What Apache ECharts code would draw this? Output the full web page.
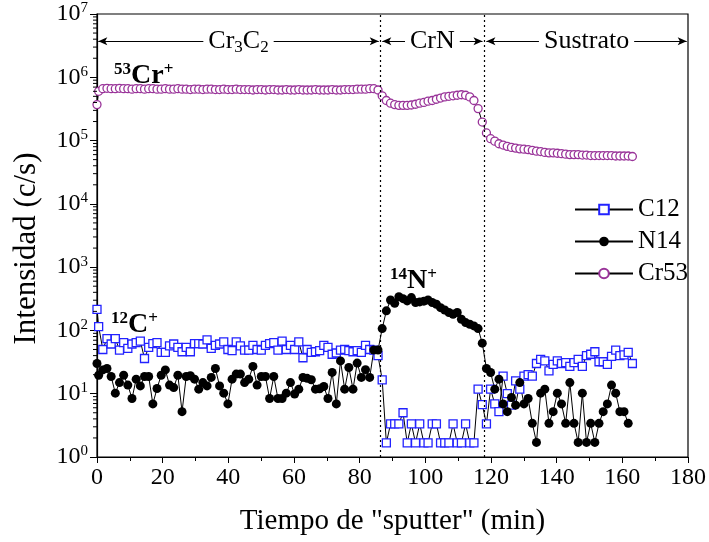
<!DOCTYPE html>
<html><head><meta charset="utf-8">
<script src="https://cdn.jsdelivr.net/npm/echarts@6/dist/echarts.min.js"></script>
<style>html,body{margin:0;padding:0;background:#fff}#c{width:709px;height:542px}</style>
</head><body><div id="c"></div>
<script>
// sampling grid (min): first sample at 0, then every DT starting at T1
const T1 = 0.5, DT = 1.27;

const c12 = [215,115,50,74,61,74,49,64,52,61,64,68,36,54,62,64,45,45,57,61,54,46,54,46,62,62,
  61,71,52,58,61,66,50,48,66,57,49,49,58,50,49,58,62,64,49,68,50,58,50,66,37,
  50,
  45,46,48,58,54,42,44,49,50,48,46,48,45,58,50,49,40,16.6,
  1.67,3.33,3.33,3.33,5,1.67,3.33,1.67,3.33,1.67,1.67,3.33,3.33,1.67,1.67,1.67,3.33,1.67,1.67,3.33,1.67,1.67,11.8,6.7,3.33,
  11.8,6.9,5.2,19,10,6.6,16,11.8,19,20,19,30,35,33,23,29,33,30,31,27,31,35,27,40,42,46,32,32,29,39,49,40,41,45,30];

const n14 = [30,19.6,23.8,25,18.7,10.2,15,19.6,13.7,8.4,17,13.3,18.7,18.7,6.9,12.1,19.6,23.8,13.7,12.5,19.6,5.2,18.7,19.2,17,11.8,15,13.3,18.1,25,13.3,10.2,6.9,17,20.4,20.4,15,17,27,13.7,18.7,18.7,8.4,18.7,8.4,8.4,10.2,
  15,9.9,11.8,18.1,17.5,16.6,11.8,12,13,8.4,21.7,6.9,33,11.8,26,11.8,30.5,18.1,24,18.1,49,49,
  107,204,302,268,342,318,293,330,276,282,290,302,276,259,229,210,192,180,192,150,133,125,118,107,63,25,
  21.6,11.8,17,6.9,5.2,8.7,6.6,15,6.9,8.4,3.4,1.7,10.2,11.8,3.4,5.2,10.2,6.9,3.4,15,3.4,1.7,10.2,1.7,3.4,1.7,3.4,5.2,6.9,13.7,10.2,5.2,5.2,3.4];

const cr53 = [3.7e5,6.0e5,
  6.6e5,6.7e5,6.6e5,6.6e5,6.7e5,6.6e5,6.6e5,6.5e5,6.6e5,6.6e5,
  6.5e5,6.6e5,6.6e5,6.5e5,6.5e5,6.6e5,6.5e5,6.5e5,6.6e5,6.5e5,
  6.5e5,6.4e5,6.5e5,6.5e5,6.4e5,6.5e5,6.5e5,6.4e5,6.4e5,6.5e5,
  6.4e5,6.4e5,6.5e5,6.4e5,6.4e5,6.4e5,6.3e5,6.4e5,6.4e5,6.3e5,
  6.4e5,6.4e5,6.3e5,6.3e5,6.4e5,6.3e5,6.3e5,6.4e5,6.3e5,6.3e5,
  6.3e5,6.4e5,6.3e5,6.3e5,6.3e5,6.4e5,6.3e5,6.3e5,6.4e5,6.4e5,
  6.4e5,6.5e5,6.5e5,6.5e5,6.6e5,6.6e5,
  6.3e5,5.1e5,4.3e5,3.9e5,3.7e5,3.6e5,3.6e5,3.6e5,3.65e5,3.75e5,3.9e5,4.0e5,4.2e5,4.3e5,4.5e5,4.7e5,4.9e5,5.0e5,5.1e5,5.2e5,5.3e5,5.2e5,4.9e5,4.3e5,3.2e5,1.96e5,
  1.32e5,1.07e5,9.8e4,8.9e4,8.5e4,8.1e4,7.8e4,7.6e4,7.4e4,7.3e4,7.2e4,7.0e4,6.8e4,6.7e4,6.5e4,6.4e4,6.4e4,6.3e4,6.2e4,6.1e4,6.0e4,6.0e4,6.0e4,5.9e4,5.9e4,5.8e4,5.8e4,5.8e4,5.8e4,5.8e4,5.8e4,5.7e4,5.7e4,5.7e4,5.7e4,5.6e4];

const regionBounds = [86.3, 118.0];           // dotted interface lines (min)
const regionLabels = ['Cr3C2', 'CrN', 'Sustrato'];
const regionSpans = [[0.4, 85.8], [86.9, 117.4], [118.6, 179.6]];
const regionArrowY = 3.7e6;
const xTickStep = 20;
const yDecades = [0,1,2,3,4,5,6,7];

const time = c12.map((_, k) => k === 0 ? 0 : T1 + (k - 1) * DT);
const pairs = arr => arr.map((v, k) => [time[k], v]);

const minorVals = [];
yDecades.slice(0, -1).forEach(e => { for (let m = 2; m <= 9; m++) minorVals.push([0, m * Math.pow(10, e)]); });

const FONT = '"Liberation Serif","Times New Roman",serif';
const chart = echarts.init(document.getElementById('c'), null, {renderer: 'canvas'});

const lineBase = {type: 'line', symbolSize: 8, lineStyle: {color: '#000', width: 1}, emphasis: {disabled: true}, z: 3};

const regionLabelRich = {
  n: {fontFamily: FONT, fontSize: 26, lineHeight: 30, color: '#000'},
  s: {fontFamily: FONT, fontSize: 17, lineHeight: 13, verticalAlign: 'bottom', color: '#000'}
};
function regionText(name) {
  if (name === 'Cr3C2') return '{n|Cr}{s|3}{n|C}{s|2}';
  return '{n|' + name + '}';
}
const annRich = {
  s: {fontFamily: FONT, fontSize: 17, fontWeight: 'bold', lineHeight: 14, verticalAlign: 'top', fill: '#000'},
  b: {fontFamily: FONT, fontSize: 28, fontWeight: 'bold', lineHeight: 30, fill: '#000'}
};

const option = {
  animation: false,
  backgroundColor: '#fff',
  grid: {left: 97, right: 18, top: 14, bottom: 85, show: true, borderColor: '#000', borderWidth: 1.2, backgroundColor: 'transparent'},
  xAxis: {
    type: 'value', min: 0, max: 180, interval: xTickStep,
    name: 'Tiempo de "sputter" (min)', nameLocation: 'middle', nameGap: 50,
    nameTextStyle: {fontFamily: FONT, fontSize: 29, color: '#000'},
    axisLine: {lineStyle: {color: '#000', width: 1.2}},
    axisTick: {inside: false, length: 6, lineStyle: {color: '#000', width: 1}},
    minorTick: {show: true, splitNumber: 2, length: 4, lineStyle: {color: '#000', width: 1}},
    axisLabel: {fontFamily: FONT, fontSize: 24, color: '#000', margin: 9},
    splitLine: {show: false}
  },
  yAxis: {
    type: 'log', logBase: 10, min: 1, max: 1e7,
    name: 'Intensidad (c/s)', nameLocation: 'middle', nameGap: 55,
    nameTextStyle: {fontFamily: FONT, fontSize: 31, color: '#000', padding: [0, 26, 0, 0]},
    axisLine: {lineStyle: {color: '#000', width: 1.2}},
    axisTick: {inside: false, length: 7, lineStyle: {color: '#000', width: 1}},
    axisLabel: {
      margin: 9, color: '#000',
      formatter: v => '{b|10}{s|' + Math.round(Math.log10(v)) + '}',
      rich: {
        b: {fontFamily: FONT, fontSize: 24, lineHeight: 26, color: '#000'},
        s: {fontFamily: FONT, fontSize: 15, lineHeight: 12, verticalAlign: 'top', color: '#000'}
      }
    },
    splitLine: {show: false}
  },
  legend: {
    left: 569, top: 192, orient: 'vertical', itemWidth: 58, itemHeight: 12, itemGap: 7,
    textStyle: {fontFamily: FONT, fontSize: 25, color: '#000'},
    data: ['C12', 'N14', 'Cr53']
  },
  series: [
    Object.assign({}, lineBase, {
      name: 'Cr53', data: pairs(cr53), symbol: 'circle', symbolSize: 8,
      itemStyle: {color: '#fff', borderColor: '#993399', borderWidth: 1.3},
      markLine: {
        silent: true, animation: false, symbol: ['arrow', 'arrow'], symbolSize: [6, 9],
        lineStyle: {color: '#000', width: 1, type: 'solid'},
        label: {show: true, position: 'middle', distance: 0, verticalAlign: 'middle',
                formatter: p => regionText(p.name), rich: regionLabelRich,
                backgroundColor: '#fff', padding: [0, 5, 0, 5]},
        data: regionSpans.map((s, i) => [
          {name: regionLabels[i], coord: [s[0], regionArrowY]},
          {coord: [s[1], regionArrowY]}
        ]).concat(regionBounds.map(b => [
          {coord: [b, 1], symbol: 'none', lineStyle: {type: [2, 3], width: 1.2, color: '#000'}, label: {show: false}},
          {coord: [b, 1e7], symbol: 'none'}
        ]))
      }
    }),
    Object.assign({}, lineBase, {
      name: 'C12', data: pairs(c12), symbol: 'rect', symbolSize: 8,
      itemStyle: {color: '#fff', borderColor: '#2222ff', borderWidth: 1.3}
    }),
    Object.assign({}, lineBase, {
      name: 'N14', data: pairs(n14), symbol: 'circle', symbolSize: 9,
      itemStyle: {color: '#000', borderColor: '#000', borderWidth: 0}
    }),
    {
      type: 'custom', silent: true, clip: false, z: 5, data: minorVals,
      renderItem: (params, api) => {
        const p = api.coord([0, api.value(1)]);
        return {type: 'line', shape: {x1: p[0] - 4, y1: p[1], x2: p[0], y2: p[1]}, style: {stroke: '#000', lineWidth: 1}};
      }
    }
  ],
  graphic: [
    {type: 'text', left: 114, top: 61, style: {rich: annRich, text: '{s|53}{b|Cr}{s|+}'}},
    {type: 'text', left: 111, top: 310, style: {rich: annRich, text: '{s|12}{b|C}{s|+}'}},
    {type: 'text', left: 390, top: 266, style: {rich: annRich, text: '{s|14}{b|N}{s|+}'}}
  ]
};
chart.setOption(option);
</script></body></html>
